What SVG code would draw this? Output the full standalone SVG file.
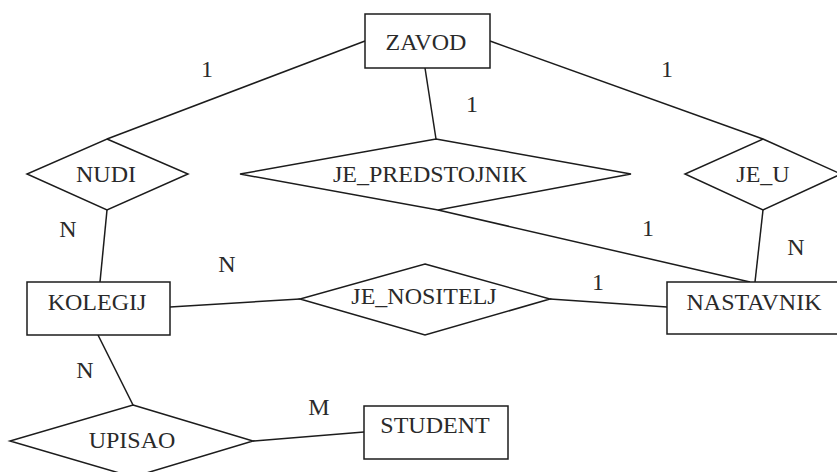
<svg xmlns="http://www.w3.org/2000/svg" width="837" height="472" viewBox="0 0 837 472">
<style>
.shape{fill:#ffffff;stroke:#1c1c1c;stroke-width:1.5}
.conn line{stroke:#1c1c1c;stroke-width:1.5}
.t{font-size:24px;fill:#2a2a2a;text-anchor:middle}
</style>
<rect width="837" height="472" fill="#ffffff"/>
<g id="connectors" class="conn">
<line x1="365" y1="41" x2="107" y2="139"/>
<line x1="425" y1="68" x2="436" y2="139"/>
<line x1="490" y1="41" x2="763" y2="139"/>
<line x1="438" y1="210" x2="750" y2="282"/>
<line x1="763" y1="210" x2="755" y2="282"/>
<line x1="107" y1="210" x2="100" y2="282"/>
<line x1="170" y1="307" x2="300" y2="299"/>
<line x1="550" y1="299" x2="667" y2="307"/>
<line x1="98" y1="335" x2="133" y2="405"/>
<line x1="253" y1="441" x2="364" y2="432"/>
</g>
<g font-family="Liberation Serif, Tinos, Times New Roman, DejaVu Serif, serif" class="t">
<g id="ZAVOD"><rect class="shape" x="365" y="14" width="125" height="54"/><text x="426" y="50">ZAVOD</text></g>
<g id="NUDI"><polygon class="shape" points="107,139 188,174 107,210 27,174"/><text x="106" y="182">NUDI</text></g>
<g id="JE_PREDSTOJNIK"><polygon class="shape" points="436,139 631,174 438,210 240,174"/><text x="430" y="182">JE_PREDSTOJNIK</text></g>
<g id="JE_U"><polygon class="shape" points="763,139 841,174 763,210 685,174"/><text x="763" y="182">JE_U</text></g>
<g id="KOLEGIJ"><rect class="shape" x="27" y="282" width="143" height="53"/><text x="97" y="310">KOLEGIJ</text></g>
<g id="JE_NOSITELJ"><polygon class="shape" points="425,264 550,299 425,335 300,299"/><text x="424" y="304">JE_NOSITELJ</text></g>
<g id="NASTAVNIK"><rect class="shape" x="667" y="282" width="175" height="52"/><text x="754" y="310">NASTAVNIK</text></g>
<g id="UPISAO"><polygon class="shape" points="133,405 253,441 133,477 10,441"/><text x="132" y="448">UPISAO</text></g>
<g id="STUDENT"><rect class="shape" x="364" y="406" width="144" height="53"/><text x="435" y="433">STUDENT</text></g>
<g id="labels">
<text x="207" y="77">1</text>
<text x="472" y="112">1</text>
<text x="667" y="77">1</text>
<text x="68" y="237">N</text>
<text x="648" y="236">1</text>
<text x="796" y="255">N</text>
<text x="227" y="272">N</text>
<text x="598" y="290">1</text>
<text x="85" y="378">N</text>
<text x="319" y="415">M</text>
</g>
</g>
</svg>
